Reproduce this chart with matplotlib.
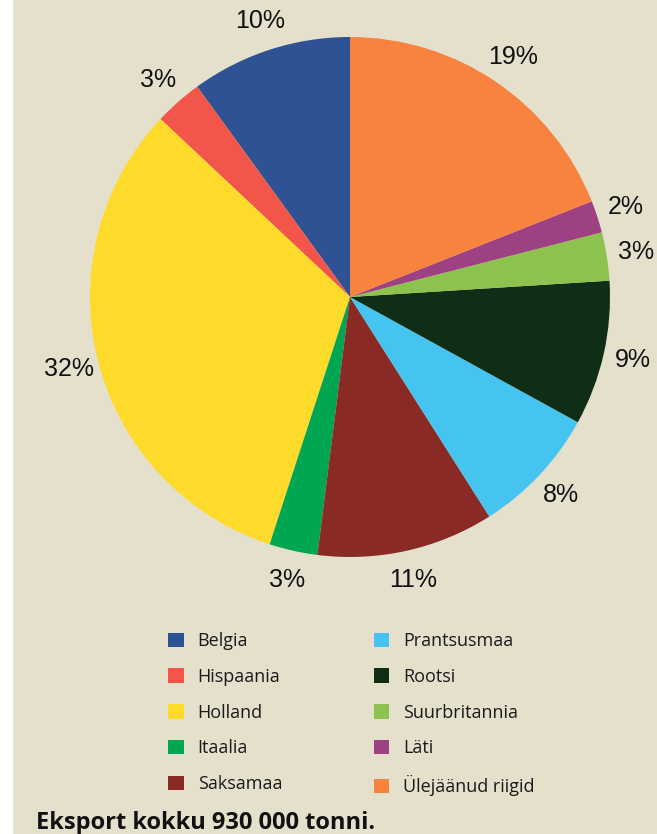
import matplotlib
matplotlib.use("Agg")
import matplotlib.pyplot as plt
from matplotlib.patches import Rectangle

# andmed (loetud jooniselt)
riigid = ["Belgia", "Hispaania", "Holland", "Itaalia", "Saksamaa",
          "Prantsusmaa", "Rootsi", "Suurbritannia", "Läti", "Ülejäänud riigid"]
osakaal = [10, 3, 32, 3, 11, 8, 9, 3, 2, 19]
varvid = ["#2E5294", "#F2554A", "#FEDB2A", "#00A651", "#8A2A25",
          "#46C4F0", "#0F2E15", "#8EC24E", "#9E4183", "#F7833F"]
pealkiri = "Eksport kokku 930 000 tonni."

taust = "#E4E0CC"

fig = plt.figure(figsize=(6.57, 8.34), dpi=100)
fig.patch.set_facecolor(taust)
# valge riba vasakul serval
fig.patches.append(Rectangle((0, 0), 13 / 657, 1, transform=fig.transFigure,
                             facecolor="white", edgecolor="none", zorder=0))

ax = fig.add_axes([90 / 657, (834 - 557) / 834, 520 / 657, 520 / 834])
ax.set_facecolor(taust)
wedges, _, pct = ax.pie(osakaal, colors=varvid, startangle=90, counterclock=True,
                        autopct="%.0f%%", pctdistance=1.115,
                        wedgeprops=dict(linewidth=0),
                        textprops=dict(fontsize=18, family="Liberation Sans", color="#111111"))
ax.set_xlim(-1, 1)
ax.set_ylim(-1, 1)
ax.set_aspect("equal")
ax.axis("off")

leg = fig.legend(wedges, riigid, ncol=2, frameon=False,
                 loc="upper left", bbox_to_anchor=(161 / 657, 1 - 625 / 834),
                 prop=dict(family="Open Sans", size=13),
                 handlelength=0.85, handleheight=0.85, handletextpad=0.78,
                 columnspacing=5.09, labelspacing=0.98, borderaxespad=0)
for t in leg.get_texts():
    t.set_color("#1a1a1a")

fig.text(36 / 657, 5 / 834, pealkiri, fontsize=17, fontweight="bold",
         family="Open Sans", color="#111111", va="baseline", ha="left")

fig.savefig("out.png", dpi=100, facecolor=fig.get_facecolor())
